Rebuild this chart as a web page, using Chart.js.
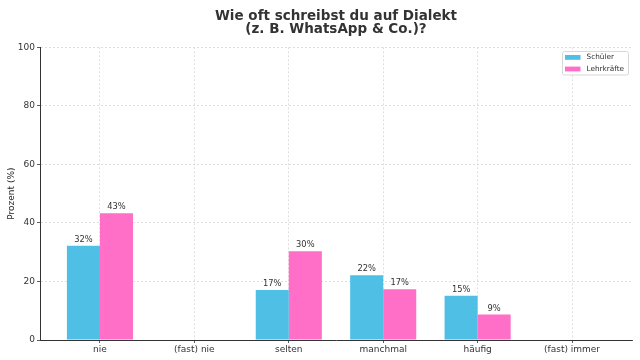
<!DOCTYPE html>
<html>
<head>
<meta charset="utf-8">
<script src="https://cdn.jsdelivr.net/npm/chart.js@4.4.1/dist/chart.umd.min.js"></script>
<style>
html,body{margin:0;padding:0;background:#fff;}
#wrap{width:640px;height:360px;}
</style>
</head>
<body>
<div id="wrap"><canvas id="c" width="640" height="360"></canvas></div>
<script>
const categories = ['nie', '(fast) nie', 'selten', 'manchmal', 'häufig', '(fast) immer'];
const schueler = [32.2, 0, 17.1, 22.1, 15.1, 0];
const lehrkraefte = [43.3, 0, 30.3, 17.3, 8.7, 0];
const seriesNames = ['Schüler', 'Lehrkräfte'];
const yTicks = [0, 20, 40, 60, 80, 100];
const titleLines = ['Wie oft schreibst du auf Dialekt', '(z. B. WhatsApp & Co.)?'];

const colors = ['#4FBFE6', '#FF6EC7'];
const FONT = '"DejaVu Sans", sans-serif';

const toPoints = arr => arr.map((v, i) => ({x: i, y: v}));

const titlePlugin = {
  id: 'titleDraw',
  afterDraw(chart) {
    const ctx = chart.ctx;
    const ca = chart.chartArea;
    ctx.save();
    ctx.fillStyle = '#333';
    ctx.font = 'bold 13.5px ' + FONT;
    ctx.textAlign = 'center';
    ctx.textBaseline = 'alphabetic';
    const cx = (ca.left + ca.right) / 2;
    ctx.fillText(titleLines[0], cx, 19.5);
    ctx.fillText(titleLines[1], cx, 33);
    ctx.restore();
  }
};

const labelPlugin = {
  id: 'barLabels',
  afterDatasetsDraw(chart) {
    const ctx = chart.ctx;
    ctx.save();
    ctx.fillStyle = '#333';
    ctx.font = '8.3px ' + FONT;
    ctx.textAlign = 'center';
    ctx.textBaseline = 'alphabetic';
    chart.data.datasets.forEach((ds, di) => {
      const meta = chart.getDatasetMeta(di);
      meta.data.forEach((el, i) => {
        const v = ds.data[i].y;
        if (v > 0) ctx.fillText(Math.round(v) + '%', el.x, el.y - 4);
      });
    });
    ctx.restore();
  }
};

const legendPlugin = {
  id: 'legendBox',
  afterDraw(chart) {
    const ctx = chart.ctx;
    ctx.save();
    const x = 562.5, y = 51.5, w = 66, h = 23.5;
    ctx.fillStyle = 'rgba(255,255,255,0.85)';
    ctx.strokeStyle = '#d8d8d8';
    ctx.lineWidth = 1;
    ctx.beginPath();
    if (ctx.roundRect) ctx.roundRect(x, y, w, h, 2); else ctx.rect(x, y, w, h);
    ctx.fill();
    ctx.stroke();
    ctx.font = '7.3px ' + FONT;
    ctx.textBaseline = 'middle';
    ctx.textAlign = 'left';
    chart.data.datasets.forEach((ds, i) => {
      const yy = 57.3 + i * 11.6;
      ctx.fillStyle = ds.backgroundColor;
      ctx.fillRect(565, yy - 2.3, 15.5, 4.8);
      ctx.fillStyle = '#333';
      ctx.fillText(ds.label, 586.5, yy);
    });
    ctx.restore();
  }
};

new Chart(document.getElementById('c'), {
  type: 'bar',
  data: {
    datasets: [
      {label: seriesNames[0], data: toPoints(schueler), backgroundColor: colors[0], borderWidth: 0},
      {label: seriesNames[1], data: toPoints(lehrkraefte), backgroundColor: colors[1], borderWidth: 0}
    ]
  },
  options: {
    responsive: false,
    animation: false,
    devicePixelRatio: 1,
    layout: {padding: {top: 47.3, right: 8, left: 0, bottom: 0}},
    plugins: {legend: {display: false}, title: {display: false}, tooltip: {enabled: false}},
    datasets: {bar: {categoryPercentage: 0.7, barPercentage: 1.0}},
    scales: {
      x: {
        type: 'linear',
        min: -0.635,
        max: 5.635,
        offset: false,
        afterBuildTicks(s) { s.ticks = categories.map((_, i) => ({value: i})); },
        afterFit(s) { s.height = 20; },
        ticks: {
          autoSkip: false,
          maxRotation: 0,
          color: '#333',
          font: {family: FONT, size: 9},
          padding: 1,
          callback: v => categories[v] !== undefined ? categories[v] : ''
        },
        grid: {offset: false, color: '#d6d6d6', lineWidth: 0.8, drawTicks: true, tickLength: 3, tickColor: '#333'},
        border: {display: true, color: '#333', width: 1, dash: [2, 2]}
      },
      y: {
        min: 0,
        max: 100,
        afterBuildTicks(s) { s.ticks = yTicks.map(v => ({value: v})); },
        afterFit(s) { s.width = 40; },
        ticks: {color: '#333', font: {family: FONT, size: 9}, padding: 2},
        title: {display: true, text: 'Prozent (%)', color: '#222', font: {family: FONT, size: 9}, padding: {top: 6.5, bottom: 0}},
        grid: {offset: false, color: '#d6d6d6', lineWidth: 0.8, drawTicks: true, tickLength: 3, tickColor: '#333'},
        border: {display: true, color: '#333', width: 1, dash: [2, 2]}
      }
    }
  },
  plugins: [titlePlugin, labelPlugin, legendPlugin]
});
</script>
</body>
</html>
